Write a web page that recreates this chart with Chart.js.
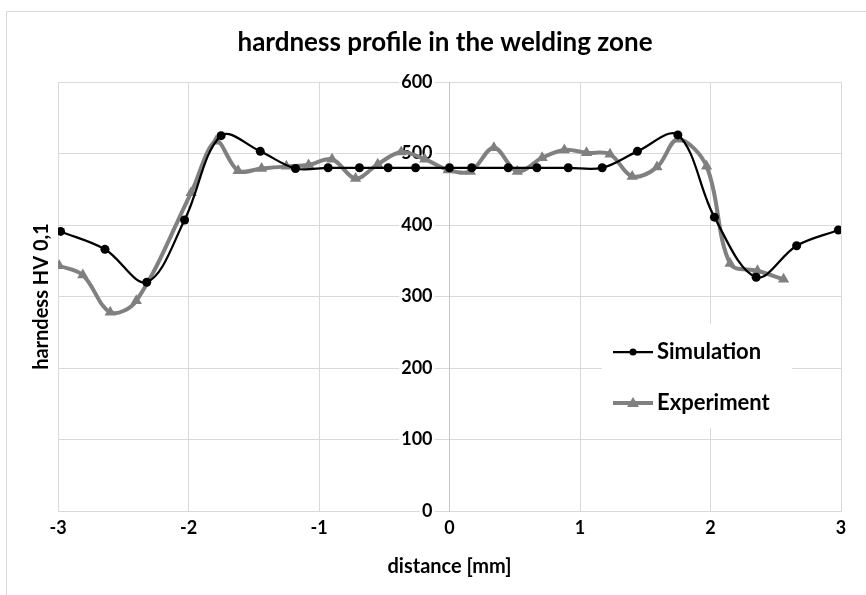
<!DOCTYPE html>
<html>
<head>
<meta charset="utf-8">
<script src="https://cdn.jsdelivr.net/npm/chart.js@4/dist/chart.umd.min.js"></script>
<style>
  html, body { margin: 0; padding: 0; background: #fff; }
  #wrap { width: 866px; height: 595px; position: relative; }
</style>
</head>
<body>
<div id="wrap"><canvas id="chart" width="866" height="595"></canvas></div>
<script>
// values
const seriesNames = ['Simulation', 'Experiment'];
const simX = [-2.98, -2.64, -2.32, -2.03, -1.75, -1.45, -1.18, -0.93, -0.69, -0.47, -0.26, 0.00, 0.17, 0.45, 0.67, 0.91, 1.17, 1.44, 1.75, 2.03, 2.35, 2.66, 2.98];
const simY = [391, 366, 320, 407, 525, 503, 479, 480, 480, 480, 480, 480, 480, 480, 480, 480, 480, 503, 526, 411, 327, 371, 393];
const expX = [-2.99, -2.81, -2.60, -2.40, -1.98, -1.79, -1.62, -1.44, -1.25, -1.08, -0.90, -0.72, -0.55, -0.37, -0.19, -0.01, 0.16, 0.34, 0.52, 0.71, 0.88, 1.05, 1.23, 1.40, 1.59, 1.75, 1.97, 2.15, 2.36, 2.56];
const expY = [343, 330, 278, 294, 445, 517, 476, 479, 482, 484, 492, 465, 485, 502, 492, 477, 475, 508, 475, 494, 505, 501, 499, 468, 481, 520, 482, 346, 336, 324];
const xTicks = [-3, -2, -1, 0, 1, 2, 3];
const yTicks = [0, 100, 200, 300, 400, 500, 600];

const FONT = 'Lato, "Open Sans", sans-serif';
const GRID = '#d9d9d9';

const toPoints = (xs, ys) => xs.map((x, i) => ({ x: x, y: ys[i] }));

// thin grey frame around the chart, like the Excel chart border
const frame = {
  id: 'frame',
  beforeDraw(chart) {
    const ctx = chart.ctx;
    ctx.save();
    ctx.strokeStyle = GRID;
    ctx.lineWidth = 1;
    ctx.beginPath();
    ctx.moveTo(6.5, 600);
    ctx.lineTo(6.5, 11.5);
    ctx.lineTo(870, 11.5);
    ctx.stroke();
    ctx.restore();
  }
};

// legend sits inside the plot area, on a white box
const insideLegend = {
  id: 'insideLegend',
  afterDraw(chart) {
    const ctx = chart.ctx;
    ctx.save();
    ctx.fillStyle = '#fff';
    ctx.fillRect(602, 324, 190, 104);
    chart.data.datasets.forEach((ds, i) => {
      const y = 352 + i * 51;
      ctx.strokeStyle = ds.borderColor;
      ctx.lineWidth = ds.borderWidth;
      ctx.beginPath();
      ctx.moveTo(613, y);
      ctx.lineTo(653, y);
      ctx.stroke();
      ctx.fillStyle = ds.backgroundColor;
      ctx.beginPath();
      if (ds.pointStyle === 'triangle') {
        ctx.moveTo(633, y - 6);
        ctx.lineTo(639, y + 4);
        ctx.lineTo(627, y + 4);
        ctx.closePath();
      } else {
        ctx.arc(633, y, 3.5, 0, Math.PI * 2);
      }
      ctx.fill();
      ctx.fillStyle = '#000';
      ctx.font = 'bold 22px ' + FONT;
      ctx.textBaseline = 'middle';
      ctx.textAlign = 'left';
      ctx.fillText(ds.label, 657, y);
    });
    ctx.restore();
  }
};

Chart.defaults.font.family = FONT;
Chart.defaults.color = '#000';

const ctx = document.getElementById('chart').getContext('2d');
new Chart(ctx, {
  type: 'line',
  data: {
    datasets: [
      {
        label: seriesNames[0],
        data: toPoints(simX, simY),
        borderColor: '#000000',
        backgroundColor: '#000000',
        borderWidth: 2.25,
        pointStyle: 'circle',
        pointRadius: 4.5,
        pointBorderWidth: 0,
        tension: 0.35,
        order: 1
      },
      {
        label: seriesNames[1],
        data: toPoints(expX, expY),
        borderColor: '#808080',
        backgroundColor: '#808080',
        borderWidth: 4,
        pointStyle: 'triangle',
        pointRadius: 6.5,
        pointBorderWidth: 0,
        tension: 0.35,
        order: 2
      }
    ]
  },
  options: {
    responsive: false,
    animation: false,
    layout: { padding: { left: 24, right: 0, top: 0, bottom: 0 } },
    plugins: {
      legend: { display: false },
      tooltip: { enabled: false },
      title: {
        display: true,
        text: 'hardness profile in the welding zone',
        color: '#000',
        font: { size: 26, weight: 'bold', lineHeight: 1.2 },
        padding: { top: 27.4, bottom: 23.4 }
      }
    },
    scales: {
      x: {
        type: 'linear',
        position: 'bottom',
        min: -3,
        max: 3,
        afterBuildTicks: (s) => { s.ticks = xTicks.map(v => ({ value: v })); },
        ticks: { font: { size: 18, weight: 'bold' }, padding: 6, color: '#000' },
        grid: { color: GRID, lineWidth: 1, drawTicks: false },
        border: { color: GRID, width: 1 },
        title: {
          display: true,
          text: 'distance [mm]',
          font: { size: 20, weight: 'bold', lineHeight: 1.2 },
          padding: { top: 0, bottom: 16 }
        },
        afterFit: (s) => { s.height = 84; }
      },
      yTitle: {
        type: 'linear',
        position: 'left',
        min: 0,
        max: 600,
        ticks: { display: false },
        grid: { display: false, drawTicks: false },
        border: { display: false },
        title: {
          display: true,
          text: 'harndess HV 0,1',
          font: { size: 20, weight: 'bold', lineHeight: 1.2 },
          padding: { top: 6, bottom: 0 }
        },
        afterFit: (s) => { s.width = 34; }
      },
      yRight: {
        type: 'linear',
        position: 'right',
        min: 0,
        max: 600,
        ticks: { display: false },
        grid: { display: false, drawTicks: false },
        border: { display: false },
        afterFit: (s) => { s.width = 25; }
      },
      y: {
        type: 'linear',
        position: { x: 0 },
        min: 0,
        max: 600,
        afterBuildTicks: (s) => { s.ticks = yTicks.map(v => ({ value: v })); },
        ticks: { display: false },
        grid: { color: GRID, lineWidth: 1, drawTicks: false },
        border: { color: '#c4c4c4', width: 1 }
      },
      yLabels: {
        type: 'linear',
        position: { x: -0.13 },
        min: 0,
        max: 600,
        z: 1,
        afterBuildTicks: (s) => { s.ticks = yTicks.map(v => ({ value: v })); },
        ticks: {
          font: { size: 18, weight: 'bold' },
          color: '#000',
          showLabelBackdrop: true,
          backdropColor: '#fff',
          backdropPadding: 2
        },
        grid: { display: false, drawTicks: false },
        border: { display: false }
      }
    }
  },
  plugins: [frame, insideLegend]
});
</script>
</body>
</html>
